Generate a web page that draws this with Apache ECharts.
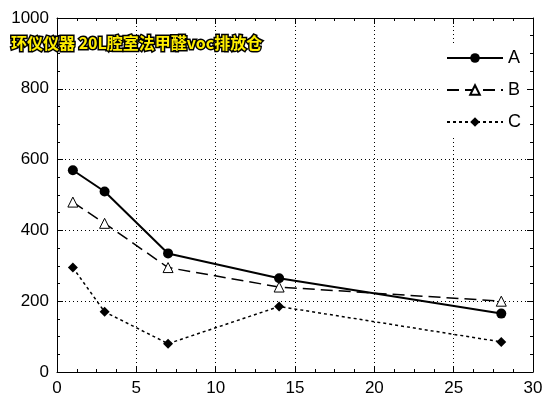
<!DOCTYPE html>
<html><head><meta charset="utf-8">
<script src="https://cdn.jsdelivr.net/npm/echarts@6/dist/echarts.min.js"></script>
<style>html,body{margin:0;padding:0;background:#fff}#c{width:550px;height:400px}</style>
</head><body><div id="c"></div>
<script>
const days = [1, 3, 7, 14, 28];
const seriesA = [570, 510, 335, 265, 165];
const seriesB = [480, 420, 295, 240, 200];
const seriesC = [295, 170, 80, 185, 85];
const names = ['A', 'B', 'C'];
const titleText = '环仪仪器 20L腔室法甲醛voc排放仓';

const pts = v => days.map((d, i) => [d, v[i]]);
const lbl = {fontFamily: 'Liberation Sans, Arial', fontSize: 17, color: '#000', formatter: v => String(v)};
const axBase = {
  axisLine: {show: true, onZero: false, lineStyle: {color: '#000', width: 1}},
  axisTick: {show: true, inside: true, length: 6, lineStyle: {color: '#000'}},
  minorTick: {show: true, splitNumber: 4, length: 3, lineStyle: {color: '#000'}}
};
const chart = echarts.init(document.getElementById('c'));
chart.setOption({
  animation: false,
  grid: {left: 57, right: 17, top: 18, bottom: 28},
  title: {text: titleText, left: 6, top: 30,
    textStyle: {fontFamily: 'Noto Sans CJK SC', fontSize: 16, fontWeight: 'bold', color: '#ffee00',
      textBorderColor: '#000', textBorderWidth: 3}},
  legend: {orient: 'vertical', right: 24, top: 44, itemWidth: 56, itemHeight: 12, itemGap: 14,
    backgroundColor: '#fff', textStyle: {fontFamily: 'Liberation Sans', fontSize: 18, color: '#000'},
    data: names},
  xAxis: [
    Object.assign({type: 'value', min: 0, max: 30, interval: 5, axisLabel: lbl,
      splitLine: {show: true, lineStyle: {type: [1, 3], color: '#000'}}}, axBase),
    Object.assign({type: 'value', position: 'top', min: 0, max: 30, interval: 5,
      axisLabel: {show: false}, splitLine: {show: false}}, axBase)
  ],
  yAxis: [
    Object.assign({type: 'value', min: 0, max: 1000, interval: 200, axisLabel: lbl,
      splitLine: {show: true, lineStyle: {type: [1, 3], color: '#000'}}}, axBase),
    Object.assign({type: 'value', position: 'right', min: 0, max: 1000, interval: 200,
      axisLabel: {show: false}, splitLine: {show: false}}, axBase)
  ],
  series: [
    {name: 'A', type: 'line', data: pts(seriesA), symbol: 'circle', symbolSize: 10,
      itemStyle: {color: '#000'}, lineStyle: {color: '#000', width: 2}},
    {name: 'B', type: 'line', data: pts(seriesB), symbol: 'triangle', symbolSize: 10,
      itemStyle: {color: '#fff', borderColor: '#000', borderWidth: 1},
      lineStyle: {color: '#000', width: 1.5, type: [12, 6]}},
    {name: 'C', type: 'line', data: pts(seriesC), symbol: 'diamond', symbolSize: 10,
      itemStyle: {color: '#000'}, lineStyle: {color: '#000', width: 1.5, type: [3, 3]}}
  ]
});
</script></body></html>
